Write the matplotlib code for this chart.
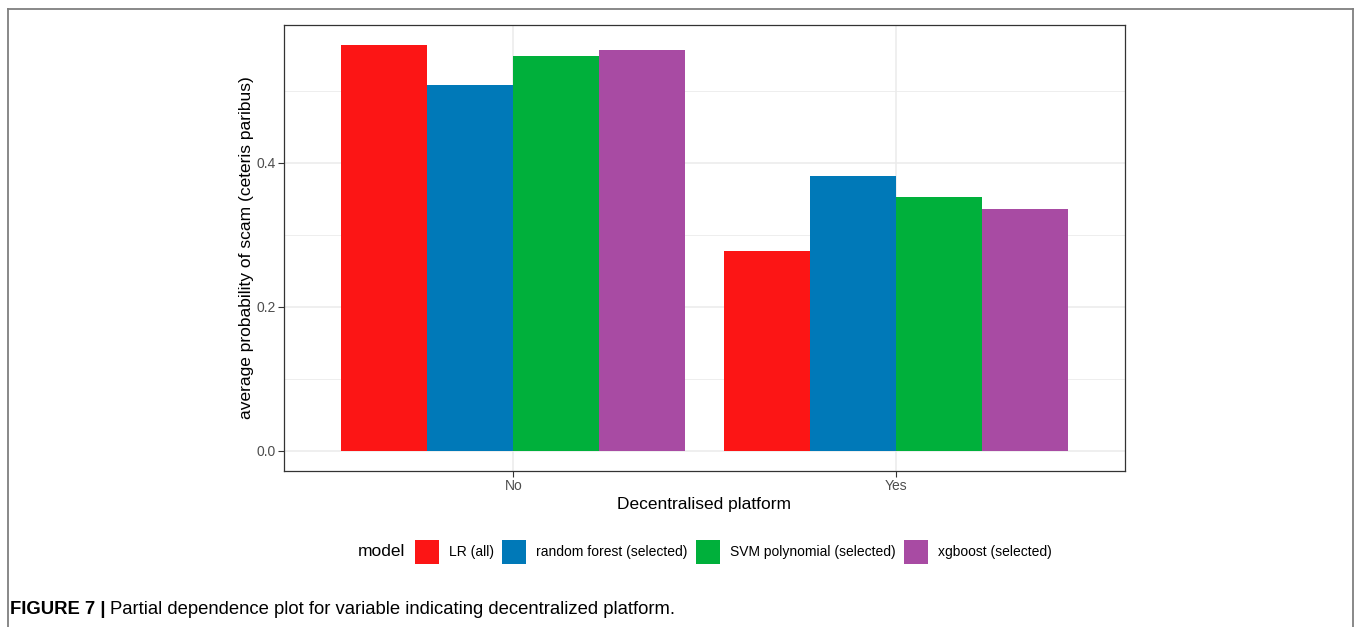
import matplotlib
matplotlib.use("Agg")
import matplotlib.pyplot as plt
import numpy as np
from matplotlib.lines import Line2D
from matplotlib.patches import Patch

plt.rcParams['font.family'] = ['Liberation Sans', 'DejaVu Sans']

categories = ["No", "Yes"]
models = ["LR (all)", "random forest (selected)", "SVM polynomial (selected)", "xgboost (selected)"]
values_no = [0.5635, 0.508, 0.5486, 0.5565]
values_yes = [0.278, 0.3815, 0.3528, 0.336]
colors = ["#FC1515", "#0079B8", "#00B03B", "#A84BA3"]
yticks = [0.0, 0.2, 0.4]
yticklabels = ["0.0", "0.2", "0.4"]

W, H = 1356, 627
fig = plt.figure(figsize=(W / 100, H / 100), dpi=100)
ax = fig.add_axes([284 / W, 1 - 471 / H, (1125 - 284) / W, (471 - 25) / H])

x = np.arange(1, len(categories) + 1)
group_w = 0.9
bw = group_w / len(models)
for i, (m, c) in enumerate(zip(models, colors)):
    vals = [values_no[i], values_yes[i]]
    ax.bar(x - group_w / 2 + bw * (i + 0.5), vals, width=bw, color=c, label=m,
           zorder=3, linewidth=0)

ymax = max(values_no + values_yes)
ax.set_ylim(-0.05 * ymax, 1.05 * ymax)
ax.set_xlim(0.4, 2.6)
ax.set_xticks(x)
ax.set_xticklabels(categories)
ax.set_yticks(yticks)
ax.set_yticklabels(yticklabels)
ax.set_yticks([0.1, 0.3, 0.5], minor=True)
ax.tick_params(axis='y', which='minor', length=0)
ax.tick_params(axis='both', which='major', length=4, width=0.8, color='#333333',
               labelsize=10, labelcolor='#4D4D4D', pad=2)
ax.grid(True, which='major', color='#EBEBEB', linewidth=1.1, zorder=0)
ax.grid(True, which='minor', axis='y', color='#EBEBEB', linewidth=0.6, zorder=0)
ax.set_axisbelow(True)
for s in ax.spines.values():
    s.set_color('#333333')
    s.set_linewidth(0.9)

ax.set_xlabel("Decentralised platform", fontsize=12.5, color='black', labelpad=3)
ax.set_ylabel("average probability of scam (ceteris paribus)", fontsize=12.5,
              color='black', labelpad=1.5)

# legend
fig.text(358 / W, 1 - 552 / H, "model", fontsize=12.5, va='center', ha='left')
handles = [Patch(facecolor=c, edgecolor='none', label=m) for m, c in zip(models, colors)]
fig.legend(handles=handles, ncol=4, loc='center left',
           bbox_to_anchor=(415 / W, 1 - 552 / H), frameon=False, fontsize=10,
           handlelength=1.73, handleheight=2.3, handletextpad=0.72,
           columnspacing=0.6, borderaxespad=0, borderpad=0)

# outer frame (top, left, right)
frame_col = '#7F7F7F'
fig.add_artist(Line2D([8 / W, 8 / W], [0, 1 - 9 / H], transform=fig.transFigure,
                      color=frame_col, linewidth=1.3))
fig.add_artist(Line2D([1353 / W, 1353 / W], [0, 1 - 9 / H], transform=fig.transFigure,
                      color=frame_col, linewidth=1.3))
fig.add_artist(Line2D([8 / W, 1353 / W], [1 - 9 / H, 1 - 9 / H], transform=fig.transFigure,
                      color=frame_col, linewidth=1.3))

# caption
t1 = fig.text(10 / W, 1 - 609 / H, "FIGURE 7 |", fontsize=13.3, fontweight='bold',
              va='center', ha='left')
fig.canvas.draw()
bb = t1.get_window_extent()
fig.text((bb.x1 + 5) / W, 1 - 609 / H,
         "Partial dependence plot for variable indicating decentralized platform.",
         fontsize=13.3, va='center', ha='left')

fig.savefig("out.png", dpi=100)
